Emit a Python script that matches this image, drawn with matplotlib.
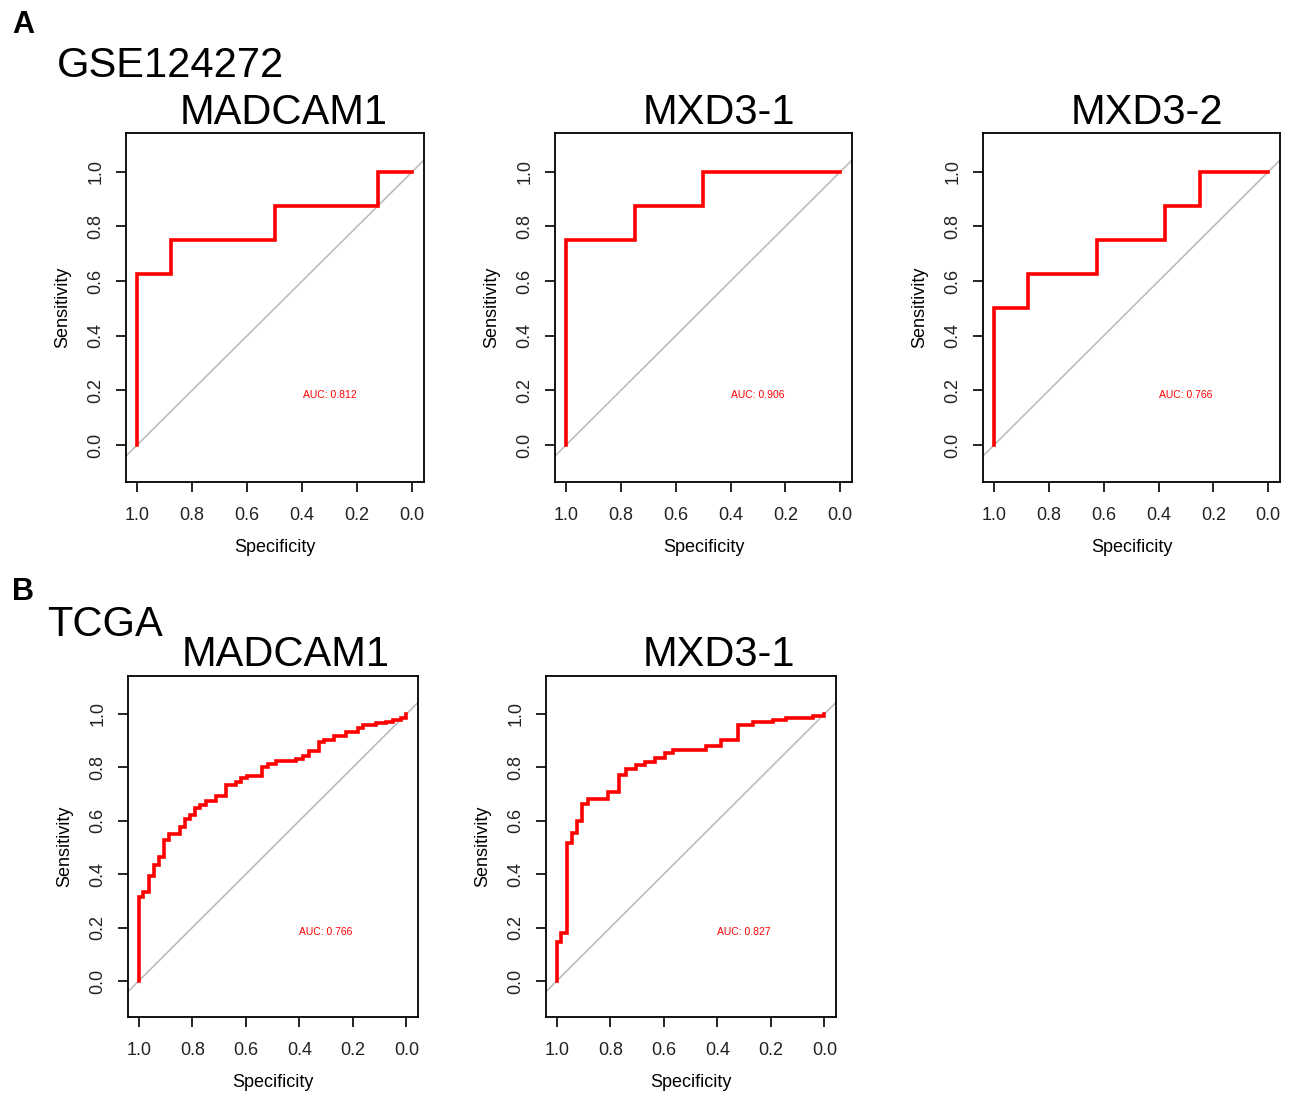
import matplotlib
matplotlib.use("Agg")
import matplotlib.pyplot as plt
import numpy as np

plt.rcParams['font.family'] = ['Liberation Sans', 'DejaVu Sans']

# step points of each ROC curve: specificity where the jump happens, sensitivity after it
gse_madcam1_spec = [1.0, 0.875, 0.5, 0.125, 0.0]
gse_madcam1_sens = [0.625, 0.75, 0.875, 1.0, 1.0]

gse_mxd3_1_spec = [1.0, 0.75, 0.5, 0.0]
gse_mxd3_1_sens = [0.75, 0.875, 1.0, 1.0]

gse_mxd3_2_spec = [1.0, 0.875, 0.625, 0.375, 0.25, 0.0]
gse_mxd3_2_sens = [0.5, 0.625, 0.75, 0.875, 1.0, 1.0]

tcga_madcam1_spec = [1.0, 0.985, 0.963, 0.944, 0.923, 0.906, 0.888, 0.846, 0.829, 0.810,
                     0.790, 0.772, 0.750, 0.713, 0.675, 0.638, 0.619, 0.594, 0.538, 0.519,
                     0.488, 0.413, 0.388, 0.363, 0.326, 0.307, 0.270, 0.226, 0.182, 0.164,
                     0.114, 0.076, 0.051, 0.020, 0.0]
tcga_madcam1_sens = [0.315, 0.332, 0.394, 0.435, 0.463, 0.528, 0.55, 0.577, 0.608, 0.621,
                     0.646, 0.658, 0.674, 0.691, 0.732, 0.745, 0.761, 0.766, 0.803, 0.813,
                     0.825, 0.831, 0.841, 0.86, 0.893, 0.903, 0.918, 0.931, 0.947, 0.958,
                     0.965, 0.97, 0.976, 0.984, 1.0]

tcga_mxd3_1_spec = [1.0, 0.983, 0.961, 0.943, 0.924, 0.904, 0.883, 0.808, 0.769, 0.740,
                    0.703, 0.672, 0.634, 0.597, 0.566, 0.442, 0.386, 0.323, 0.267, 0.193,
                    0.143, 0.044, 0.0]
tcga_mxd3_1_sens = [0.144, 0.181, 0.515, 0.555, 0.599, 0.664, 0.680, 0.708, 0.773, 0.792,
                    0.807, 0.819, 0.835, 0.853, 0.865, 0.881, 0.902, 0.959, 0.968, 0.976,
                    0.986, 0.992, 1.0]

titles = ["MADCAM1", "MXD3-1", "MXD3-2", "MADCAM1", "MXD3-1"]
auc_labels = ["AUC: 0.812", "AUC: 0.906", "AUC: 0.766", "AUC: 0.766", "AUC: 0.827"]
ticks = [1.0, 0.8, 0.6, 0.4, 0.2, 0.0]
tick_labels = ["1.0", "0.8", "0.6", "0.4", "0.2", "0.0"]

W, H = 1292, 1093
fig = plt.figure(figsize=(W / 100, H / 100), dpi=100)

# axes boxes in pixels: x0, x1, y0 (top), y1 (bottom)
boxes = [(126, 424, 133, 482), (555, 852, 133, 482), (983, 1280, 133, 482),
         (128, 418, 676, 1017), (546, 836, 676, 1017)]
curves = [(gse_madcam1_spec, gse_madcam1_sens), (gse_mxd3_1_spec, gse_mxd3_1_sens),
          (gse_mxd3_2_spec, gse_mxd3_2_sens), (tcga_madcam1_spec, tcga_madcam1_sens),
          (tcga_mxd3_1_spec, tcga_mxd3_1_sens)]
title_pos = [(284, 124), (719, 124), (1147, 124), (286, 666), (719, 666)]


def step_path(spec, sens):
    xs, ys = [1.0], [0.0]
    prev = 0.0
    for s, v in zip(spec, sens):
        xs += [s, s]
        ys += [prev, v]
        prev = v
    return xs, ys


for i, (x0, x1, y0, y1) in enumerate(boxes):
    ax = fig.add_axes([x0 / W, 1 - y1 / H, (x1 - x0) / W, (y1 - y0) / H])
    ax.set_xlim(1.04, -0.043)
    ax.set_ylim(-0.135, 1.142)
    ax.axline((1.0, 0.0), (0.0, 1.0), color="#bdbdbd", lw=1.2, zorder=1)
    xs, ys = step_path(*curves[i])
    ax.plot(xs, ys, color="#ff0000", lw=2.6, zorder=2, solid_joinstyle="miter")
    ax.text(0.3, 0.185, auc_labels[i], color="#ff0000", fontsize=7.5,
            ha="center", va="center")
    ax.set_xticks(ticks)
    ax.set_xticklabels(tick_labels, fontsize=13, color="#222222")
    ax.set_yticks(ticks)
    ax.set_yticklabels(tick_labels, fontsize=13, color="#222222",
                       rotation=90, va="center")
    ax.tick_params(direction="out", length=7, width=1.2)
    ax.tick_params(axis="x", pad=11)
    ax.tick_params(axis="y", pad=8.5)
    ax.set_xlabel("Specificity", fontsize=13, labelpad=11)
    ax.set_ylabel("Sensitivity", fontsize=13, labelpad=12)
    for sp in ax.spines.values():
        sp.set_linewidth(1.3)
    tx, ty = title_pos[i]
    fig.text(tx / W, 1 - ty / H, titles[i], fontsize=30, ha="center", va="baseline")

fig.text(12 / W, 1 - 33 / H, "A", fontsize=22, fontweight="bold", va="baseline")
fig.text(57 / W, 1 - 77 / H, "GSE124272", fontsize=30, va="baseline")
fig.text(12 / W, 1 - 600 / H, "B", fontsize=22, fontweight="bold", va="baseline")
fig.text(47 / W, 1 - 636 / H, "TCGA", fontsize=30, va="baseline")

fig.savefig("out.png", dpi=100, facecolor="white")
